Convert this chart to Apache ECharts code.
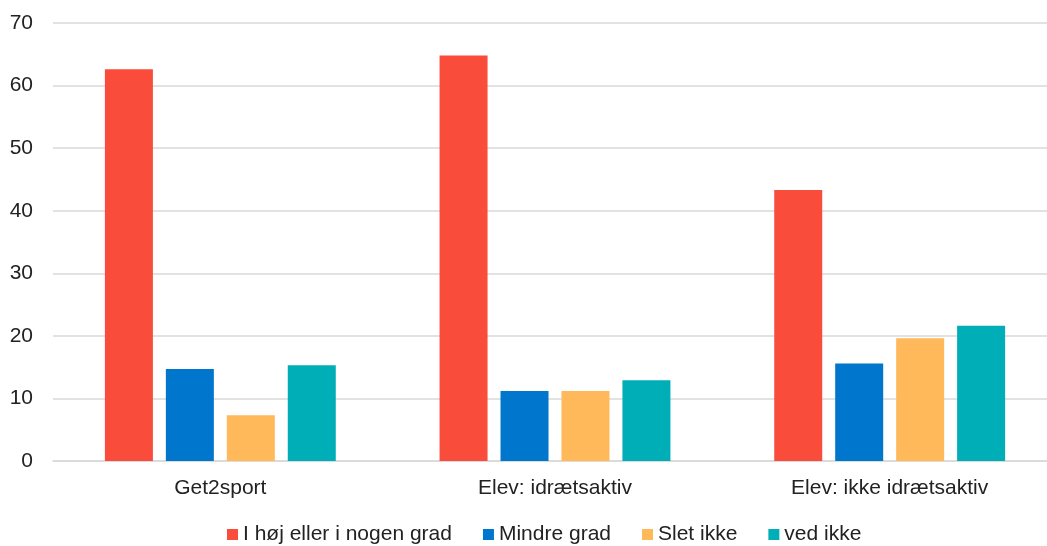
<!DOCTYPE html>
<html><head><meta charset="utf-8">
<script src="https://cdn.jsdelivr.net/npm/echarts@6/dist/echarts.min.js"></script>
<style>html,body{margin:0;padding:0;background:#fff}#c{width:1047px;height:546px}</style>
</head><body><div id="c"></div>
<script>
const categories = ["Get2sport", "Elev: idrætsaktiv", "Elev: ikke idrætsaktiv"];
const seriesNames = ["I høj eller i nogen grad", "Mindre grad", "Slet ikke", "ved ikke"];
const hojGrad = [62.6, 64.8, 43.3];
const mindreGrad = [14.7, 11.2, 15.6];
const sletIkke = [7.3, 11.2, 19.6];
const vedIkke = [15.3, 12.9, 21.6];
const yTicks = [0, 10, 20, 30, 40, 50, 60, 70];
const colors = ["#F94C3B", "#0077CC", "#FFB95A", "#00AEB8"];
const values = [hojGrad, mindreGrad, sletIkke, vedIkke];

const chart = echarts.init(document.getElementById('c'));
const font = "'Liberation Sans', Arial, sans-serif";
chart.setOption({
  animation: false,
  color: colors,
  grid: {left: 53, width: 1004, top: 23, bottom: 85, containLabel: false, outerBoundsMode: 'none'},
  legend: {
    top: 524, left: 227, itemWidth: 11, itemHeight: 11, itemGap: 31,
    icon: 'rect', padding: 0,
    textStyle: {fontFamily: font, fontSize: 21, color: '#222', padding: [0,0,0,0]},
    data: seriesNames
  },
  xAxis: {
    type: 'category', data: categories,
    axisLine: {lineStyle: {color: '#d9d9d9', width: 1.5}},
    axisTick: {show: false},
    axisLabel: {fontFamily: font, fontSize: 21, color: '#222', margin: 17}
  },
  yAxis: {
    type: 'value', min: yTicks[0], max: yTicks[yTicks.length-1], interval: 10,
    axisLine: {show: false}, axisTick: {show: false},
    splitLine: {lineStyle: {color: '#d9d9d9', width: 1.5}},
    axisLabel: {fontFamily: font, fontSize: 21, color: '#222', margin: 20}
  },
  series: seriesNames.map((n, i) => ({
    name: n, type: 'bar', data: values[i], barWidth: 48, barGap: '27%'
  }))
});
</script></body></html>
